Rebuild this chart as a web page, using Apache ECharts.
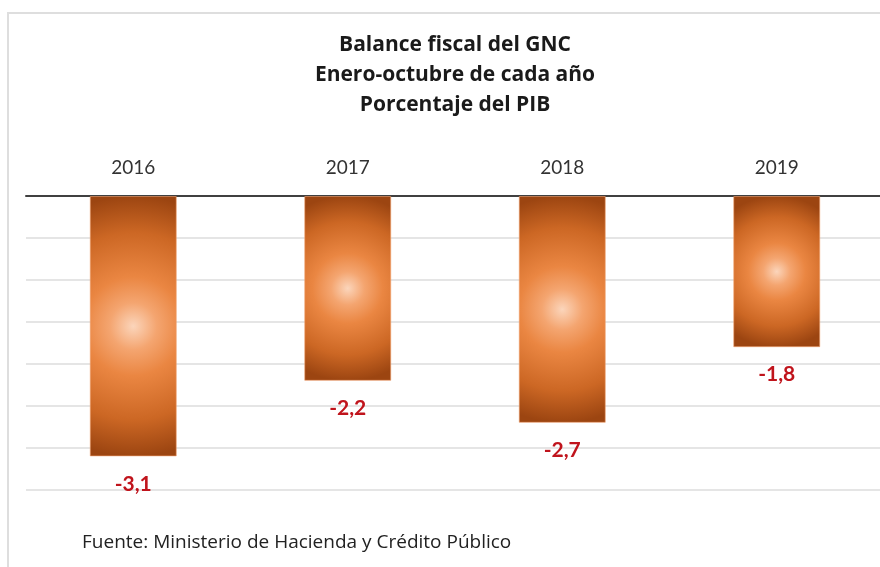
<!DOCTYPE html>
<html>
<head>
<meta charset="utf-8">
<script src="https://cdn.jsdelivr.net/npm/echarts@6/dist/echarts.min.js"></script>
<style>
  html, body { margin: 0; padding: 0; background: #fff; }
  #chart { width: 880px; height: 567px; }
</style>
</head>
<body>
<div id="chart"></div>
<script>
// datos del gráfico
var years = ["2016", "2017", "2018", "2019"];
var balance = [-3.1, -2.2, -2.7, -1.8];
var titleLines = ["Balance fiscal del GNC", "Enero-octubre de cada año", "Porcentaje del PIB"];
var source = "Fuente: Ministerio de Hacienda y Crédito Público";

var font = "'Open Sans', Lato, sans-serif";
var numFont = "Lato, 'Open Sans', sans-serif";
var plotHeight = 294;
var barWidth = 87;

// degradado radial que llega al borde superior/inferior de cada barra
function barFill(v) {
  var r = (Math.abs(v) / 3.5) * plotHeight / 2 / barWidth;
  return {
    type: "radial", x: 0.5, y: 0.5, r: r,
    colorStops: [
      { offset: 0, color: "#fbd5bb" },
      { offset: 0.18, color: "#f4a570" },
      { offset: 0.38, color: "#ea8642" },
      { offset: 0.72, color: "#cc6724" },
      { offset: 1, color: "#9c4511" }
    ]
  };
}

var myChart = echarts.init(document.getElementById("chart"));
myChart.setOption({
  animation: false,
  textStyle: { fontFamily: font },
  title: {
    text: titleLines.join("\n"),
    left: 450,
    top: 25,
    textAlign: "center",
    textStyle: { fontFamily: font, fontSize: 21, fontWeight: "bold", color: "#1a1a1a", lineHeight: 30 }
  },
  grid: { left: 26, width: 858, top: 196, height: 294, containLabel: false, outerBoundsMode: "none" },
  xAxis: {
    type: "category",
    position: "top",
    data: years,
    axisLine: { lineStyle: { color: "#404040", width: 2 } },
    axisTick: { show: false },
    axisLabel: { margin: 19, fontSize: 19, color: "#333", fontFamily: numFont },
    splitLine: { show: false }
  },
  yAxis: {
    type: "value",
    min: -3.5,
    max: 0,
    interval: 0.5,
    axisLine: { show: false },
    axisTick: { show: false },
    axisLabel: { show: false },
    splitLine: { lineStyle: { color: "#dcdcdc", width: 1.5 } }
  },
  series: [{
    type: "bar",
    barWidth: barWidth,
    z: 1,
    data: balance.map(function (v) {
      return { value: v, itemStyle: { color: barFill(v), borderColor: "rgba(240,160,110,0.6)", borderWidth: 1 } };
    }),
    label: {
      show: true,
      position: "bottom",
      distance: 17,
      fontSize: 21,
      fontWeight: "bold",
      color: "#c0141c",
      fontFamily: numFont,
      formatter: function (p) { return String(p.value).replace(".", ","); }
    }
  }],
  graphic: [
    {
      type: "rect",
      shape: { x: 8, y: 13, width: 900, height: 600 },
      style: { fill: "none", stroke: "#dedede", lineWidth: 2 },
      z: -1
    },
    {
      type: "text",
      left: 82,
      top: 533,
      style: { text: source, fontSize: 19, fill: "#222", fontFamily: font }
    }
  ]
});
</script>
</body>
</html>
